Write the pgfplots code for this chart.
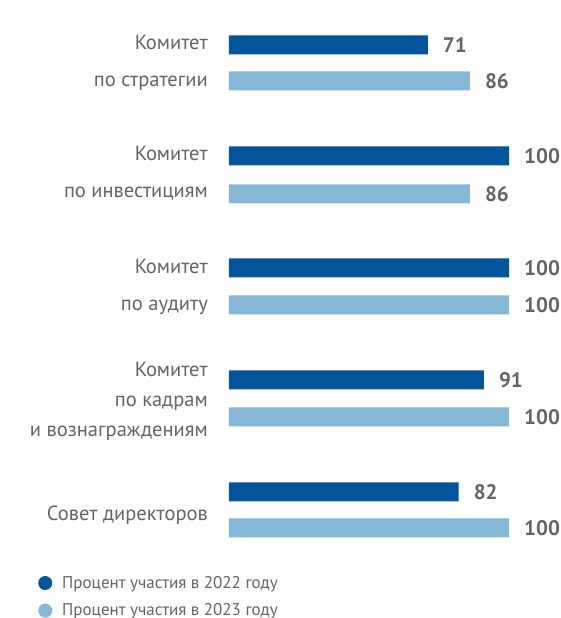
\documentclass[border=0pt]{standalone}
\usepackage{fontspec}
\setmainfont{PT Sans}
\usepackage{pgfplots}
\pgfplotsset{compat=1.18}
\definecolor{dark}{RGB}{0,85,155}
\definecolor{light}{RGB}{133,184,214}
\definecolor{txt}{RGB}{100,100,100}
\begin{document}
\begin{tikzpicture}
\begin{axis}[
  at={(0,0)}, anchor=south west,
  scale only axis, width=280pt, height=618pt,
  xmin=0, xmax=100, ymin=0, ymax=618,
  clip=false,
  axis line style={draw=none}, tick style={draw=none},
  major tick length=0pt,
  xtick=\empty,
  /pgf/number format/assume math mode=true,
  ytick={555,444.5,331.5,217,103},
  yticklabels={{Комитет\\по стратегии},{Комитет\\по инвестициям},{Комитет\\по аудиту},{Комитет\\[-7pt]по кадрам\\[-7pt]и вознаграждениям},{Совет директоров}},
  yticklabel style={align=right, text=txt, font=\fontsize{20.5}{37}\selectfont, inner sep=0pt, xshift=-21pt},
  xbar, bar width=19pt, bar shift=0pt,
  point meta=x,
  nodes near coords,
  nodes near coords style={anchor=west, inner sep=0pt, xshift=15pt, text=txt, font=\fontsize{21}{24}\selectfont\bfseries},
  legend style={draw=none, fill=none, at={(-0.682,0.0712)}, anchor=north west,
    font=\fontsize{17}{20}\selectfont\color{txt}, row sep=10pt, legend cell align=left,
    inner sep=0pt},
  legend image code/.code={\fill[#1] (7pt,0) circle (7pt); \path (22pt,0);},
]
\addplot[draw=none, fill=dark] coordinates {(71,573) (100,462) (100,350) (91,238) (82,126)};
\addlegendentry{Процент участия в 2022 году}
\addplot[draw=none, fill=light] coordinates {(86,537) (86,424) (100,313) (100,201) (100,90)};
\addlegendentry{Процент участия в 2023 году}
\end{axis}
\pgfresetboundingbox
\path[use as bounding box] (-229pt,0) rectangle (332pt,618pt);
\end{tikzpicture}
\end{document}
